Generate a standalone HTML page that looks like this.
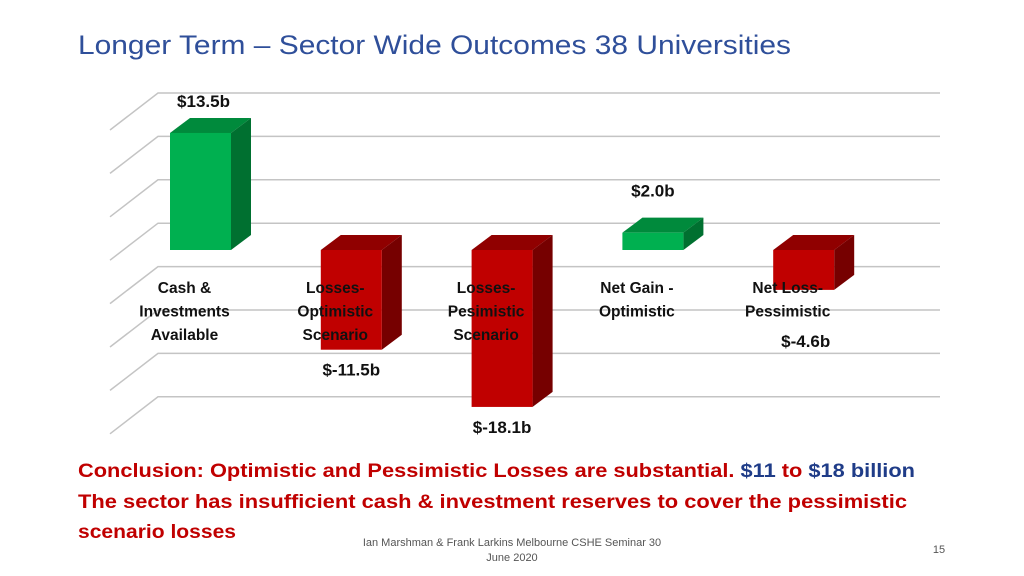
<!DOCTYPE html>
<html><head><meta charset="utf-8"><style>
body{margin:0;background:#fff;width:1024px;height:576px;overflow:hidden;font-family:"Liberation Sans",sans-serif;}
svg{position:absolute;left:0;top:0}
</style></head><body>
<svg width="1024" height="576">
<text x="78" y="54" font-size="27" fill="#2f4f9a" textLength="713" lengthAdjust="spacingAndGlyphs">Longer Term – Sector Wide Outcomes 38 Universities</text>
<g id="grid"></g>
<g id="bars"></g>
<g id="labels" font-weight="bold" fill="#111" text-anchor="middle"></g>
<text x="78" y="477" font-size="19.5" font-weight="bold" fill="#c00000" textLength="837" lengthAdjust="spacingAndGlyphs">Conclusion: Optimistic and Pessimistic Losses are substantial. <tspan fill="#1f3c88">$11</tspan> to <tspan fill="#1f3c88">$18 billion</tspan></text>
<text x="78" y="508" font-size="19.5" font-weight="bold" fill="#c00000" textLength="829" lengthAdjust="spacingAndGlyphs">The sector has insufficient cash &amp; investment reserves to cover the pessimistic</text>
<text x="78" y="538" font-size="19.5" font-weight="bold" fill="#c00000" textLength="158" lengthAdjust="spacingAndGlyphs">scenario losses</text>
<text x="512" y="546" font-size="11" fill="#555" text-anchor="middle">Ian Marshman &amp; Frank Larkins Melbourne CSHE Seminar 30</text>
<text x="512" y="561" font-size="11" fill="#555" text-anchor="middle">June 2020</text>
<text x="939" y="553" font-size="11" fill="#555" text-anchor="middle">15</text>
</svg>
<script>
const categories=[["Cash &","Investments","Available"],["Losses-","Optimistic","Scenario"],["Losses-","Pesimistic","Scenario"],["Net Gain -","Optimistic"],["Net Loss-","Pessimistic"]];
const values=[13.5,-11.5,-18.1,2.0,-4.6];
const valueLabels=["$13.5b","$-11.5b","$-18.1b","$2.0b","$-4.6b"];
const NS="http://www.w3.org/2000/svg";
const zeroY=250, scale=8.67, x0=170, step=150.8, bw=61, dx=20, dy=-15;
const y=v=>zeroY-v*scale;
const grid=document.getElementById('grid'),bars=document.getElementById('bars'),labels=document.getElementById('labels');
function mk(t,a,p){const e=document.createElementNS(NS,t);for(const k in a)e.setAttribute(k,a[k]);p.appendChild(e);return e;}
for(let k=0;k<8;k++){const gy=93+k*43.4;
 const l=mk('path',{d:`M110 ${gy+37}L158 ${gy}L940 ${gy}`,stroke:'#c4c4c4','stroke-width':1.5,fill:'none'},grid);
 
 }
values.forEach((v,i)=>{
 const x=x0+i*step, top=Math.min(y(v),zeroY), bot=Math.max(y(v),zeroY);
 const pos=v>=0, c=pos?['#00b050','#008a3c','#007030']:['#c00000','#900000','#760000'];
 const g=mk('g',{},bars);
 
 
 mk('polygon',{points:`${x},${top} ${x+dx},${top+dy} ${x+bw+dx},${top+dy} ${x+bw},${top}`,fill:c[1]},g);
 mk('polygon',{points:`${x+bw},${top} ${x+bw+dx},${top+dy} ${x+bw+dx},${bot+dy} ${x+bw},${bot}`,fill:c[2]},g);
 mk('rect',{x:x,y:top,width:bw,height:bot-top,fill:c[0]},g);
 const cx=x+bw/2;
 let vy, vx=cx;
 if(i==0){vy=top-26;vx=cx+3;}
 else if(i==4){vy=bot+57;vx=cx+2;}
 else if(pos){vy=top-36;}
 else{vy=bot+26;}
 const t=mk('text',{x:vx,y:vy,'font-size':17},labels);
 t.textContent=valueLabels[i];
 
 
 categories[i].forEach((s,j)=>{const tt=mk('text',{x:cx-16,y:293+j*23.5,'font-size':15.5},labels);tt.textContent=s;
  
  });
});
</script>
</body></html>
